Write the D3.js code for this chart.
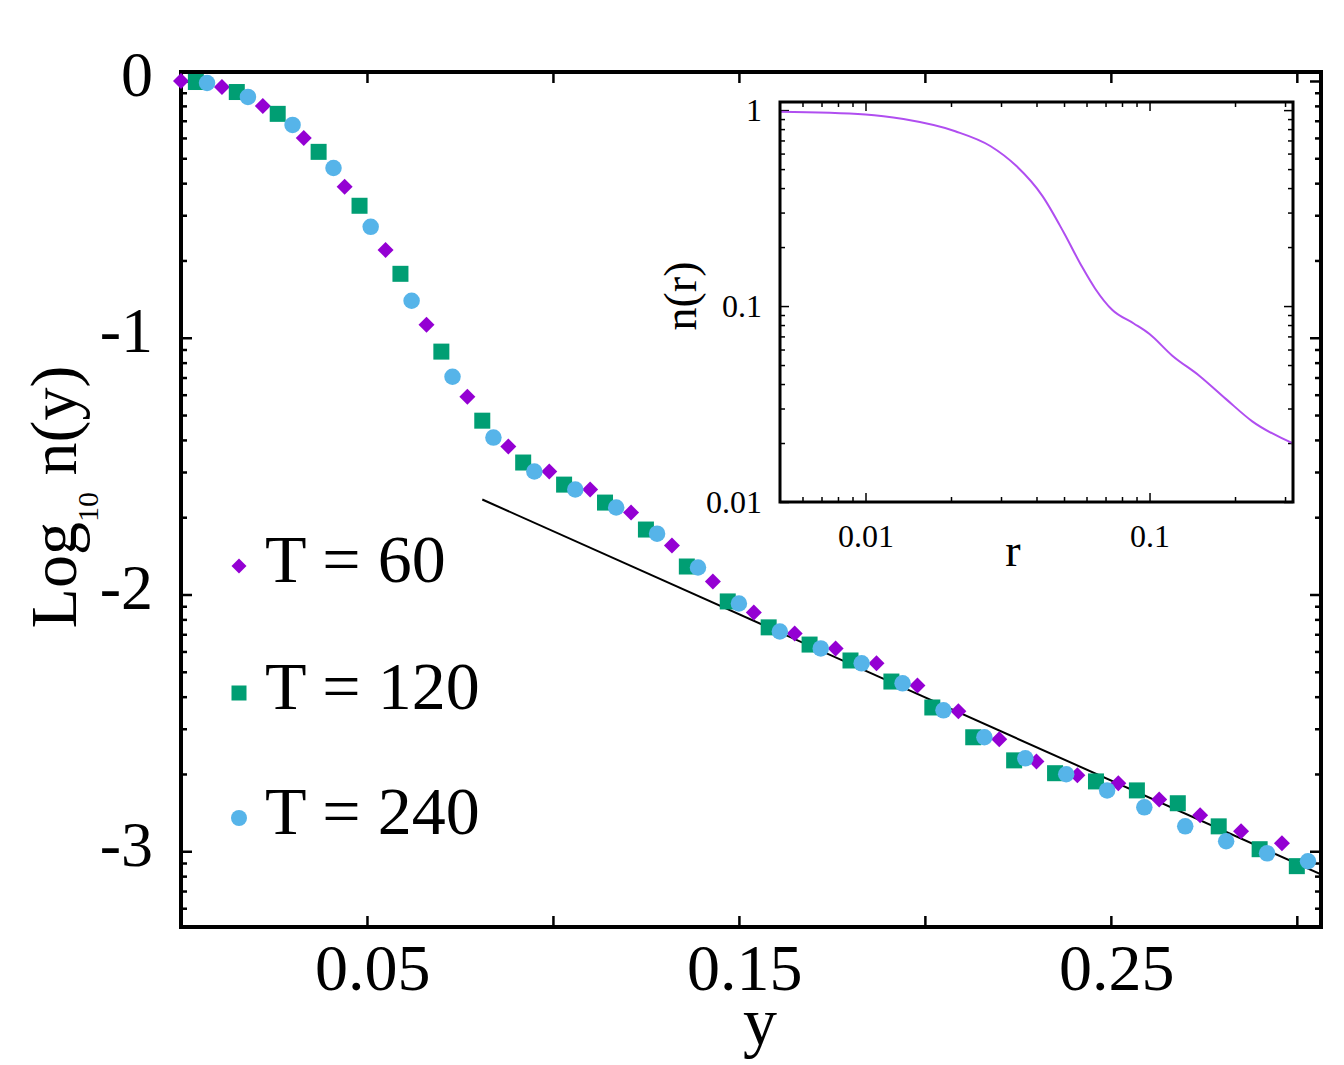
<!DOCTYPE html>
<html>
<head>
<meta charset="utf-8">
<script src="https://cdn.jsdelivr.net/npm/d3@7"></script>
<style>
  body { margin: 0; background: #fff; }
  svg text { font-family: "Liberation Serif", "DejaVu Serif", serif; fill: #000; }
</style>
</head>
<body>
<svg id="chart" width="1344" height="1065"></svg>
<script>
// main panel: x = y (position), value = log10 n(y)
const x60 = [0.000, 0.011, 0.022, 0.033, 0.044, 0.055, 0.066, 0.077, 0.088, 0.099, 0.110, 0.121, 0.132, 0.143,
             0.154, 0.165, 0.176, 0.187, 0.198, 0.209, 0.220, 0.230, 0.241, 0.252, 0.263, 0.274, 0.285, 0.296];
const logN60 = [0.000, -0.023, -0.097, -0.222, -0.412, -0.658, -0.949, -1.230, -1.424, -1.521, -1.591, -1.681, -1.809, -1.949,
                -2.070, -2.152, -2.210, -2.268, -2.354, -2.455, -2.564, -2.650, -2.704, -2.735, -2.798, -2.860, -2.922, -2.969];

const x120 = [0.004, 0.015, 0.026, 0.037, 0.048, 0.059, 0.070, 0.081, 0.092, 0.103, 0.114, 0.125, 0.136, 0.147,
              0.158, 0.169, 0.180, 0.191, 0.202, 0.213, 0.224, 0.235, 0.246, 0.257, 0.268, 0.279, 0.290, 0.300];
const logN120 = [-0.004, -0.043, -0.128, -0.276, -0.486, -0.751, -1.054, -1.323, -1.486, -1.572, -1.642, -1.747, -1.891, -2.027,
                 -2.128, -2.195, -2.257, -2.339, -2.440, -2.556, -2.646, -2.696, -2.728, -2.763, -2.813, -2.903, -2.992, -3.058];

const x240 = [0.007, 0.018, 0.030, 0.041, 0.051, 0.062, 0.073, 0.084, 0.095, 0.106, 0.117, 0.128, 0.139, 0.150,
              0.161, 0.172, 0.183, 0.194, 0.205, 0.216, 0.227, 0.238, 0.249, 0.259, 0.270, 0.281, 0.292, 0.303];
const logN240 = [-0.008, -0.062, -0.171, -0.339, -0.568, -0.856, -1.152, -1.389, -1.521, -1.591, -1.661, -1.763, -1.895, -2.035,
                 -2.144, -2.210, -2.268, -2.346, -2.451, -2.556, -2.638, -2.700, -2.763, -2.829, -2.903, -2.961, -3.008, -3.039];

// straight fit line
const fitX = [0.081, 0.3065];
const fitLogN = [-1.630, -3.090];

const seriesNames = ["T = 60", "T = 120", "T = 240"];
const xTickLabels = [0.05, 0.15, 0.25];
const xTicks = [0.05, 0.10, 0.15, 0.20, 0.25, 0.30];
const yTicks = [0, -1, -2, -3];

// inset: n(r)
const rVals = [0.005, 0.010, 0.0136, 0.0207, 0.0275, 0.034, 0.042, 0.050, 0.0578, 0.0643, 0.074, 0.0880, 0.100, 0.120, 0.15, 0.186, 0.23, 0.32];
const nVals = [0.98, 0.95, 0.90, 0.78, 0.656, 0.518, 0.364, 0.236, 0.159, 0.123, 0.0954, 0.0815, 0.0720, 0.0560, 0.0440, 0.0335, 0.0258, 0.0199];
const insetRTicks = [0.01, 0.1];
const insetNTicks = [0.01, 0.1, 1];

const svg = d3.select("#chart");

// ---- main panel ----
const L = 181, R = 1321, T = 72, B = 927;
const x = d3.scaleLinear().domain([0, 0.3065]).range([L, R]);
const y = d3.scaleLinear().domain([-3.295, 0.035]).range([B, T]);

// minor log ticks inside each decade
let yMinor = [];
for (let d = -4; d <= 0; d++) {
  for (let k = 2; k <= 9; k++) {
    let v = d + Math.log10(k);
    if (v > -3.295 && v < 0.035) yMinor.push(v);
  }
}

const fmt = d => (d === 0 ? "0" : "-" + Math.abs(d));

// left axis
svg.append("g").attr("transform", `translate(${L},0)`)
  .call(d3.axisLeft(y).tickValues(yMinor).tickSize(-6).tickFormat(""))
  .call(g => g.select(".domain").remove());
svg.append("g").attr("class", "yaxis").attr("transform", `translate(${L},0)`)
  .call(d3.axisLeft(y).tickValues(yTicks).tickSize(-11).tickPadding(28).tickFormat(fmt))
  .call(g => g.select(".domain").remove())
  .call(g => g.selectAll("text").attr("font-size", 64).attr("dy", "0.22em"));
// right axis (ticks only)
svg.append("g").attr("transform", `translate(${R},0)`)
  .call(d3.axisRight(y).tickValues(yMinor).tickSize(-6).tickFormat(""))
  .call(g => g.select(".domain").remove());
svg.append("g").attr("transform", `translate(${R},0)`)
  .call(d3.axisRight(y).tickValues(yTicks).tickSize(-11).tickFormat(""))
  .call(g => g.select(".domain").remove());
// bottom axis
svg.append("g").attr("transform", `translate(0,${B})`)
  .call(d3.axisBottom(x).tickValues(xTicks).tickSize(-11)
    .tickFormat(d => xTickLabels.some(v => Math.abs(v - d) < 1e-9) ? d.toFixed(2) : "").tickPadding(16))
  .call(g => g.select(".domain").remove())
  .call(g => g.selectAll("text").attr("font-size", 66).attr("dx", "0.08em"));
// top axis
svg.append("g").attr("transform", `translate(0,${T})`)
  .call(d3.axisTop(x).tickValues(xTicks).tickSize(-11).tickFormat(""))
  .call(g => g.select(".domain").remove());

svg.selectAll(".tick line").attr("stroke", "#000").attr("stroke-width", 2.5);

// fit line
const clipId = "mainclip";
svg.append("clipPath").attr("id", clipId).append("rect")
  .attr("x", L).attr("y", T).attr("width", R - L).attr("height", B - T);

svg.append("path")
  .datum(fitX.map((v, i) => [v, fitLogN[i]]))
  .attr("clip-path", `url(#${clipId})`)
  .attr("fill", "none").attr("stroke", "#000").attr("stroke-width", 2)
  .attr("d", d3.line().x(d => x(d[0])).y(d => y(d[1])));

const colors = ["#9400d3", "#009e73", "#56b4e9"];

function marker(g, kind, size, color) {
  if (kind === 0) {
    const h = size / 2;
    g.append("path").attr("d", `M0,${-h}L${h},0L0,${h}L${-h},0Z`).attr("fill", color);
  } else if (kind === 1) {
    g.append("rect").attr("x", -size / 2).attr("y", -size / 2).attr("width", size).attr("height", size).attr("fill", color);
  } else {
    g.append("circle").attr("r", size / 2).attr("fill", color);
  }
}

// frame
svg.append("rect").attr("x", L).attr("y", T).attr("width", R - L).attr("height", B - T)
  .attr("fill", "none").attr("stroke", "#000").attr("stroke-width", 4);

const allX = [x60, x120, x240];
const allY = [logN60, logN120, logN240];
const mainSizes = [16, 16, 16.5];
const pts = svg.append("g");
allX.forEach((xs, s) => {
  xs.forEach((v, i) => {
    const g = pts.append("g").attr("transform", `translate(${x(v)},${y(allY[s][i])})`);
    marker(g, s, mainSizes[s], colors[s]);
  });
});

// axis titles
svg.append("text").attr("x", 760).attr("y", 1045).attr("text-anchor", "middle")
  .attr("font-size", 68).text("y");

const yl = svg.append("text").attr("transform", "translate(76,497) rotate(-90)")
  .attr("text-anchor", "middle").attr("font-size", 66);
yl.append("tspan").text("Log");
yl.append("tspan").attr("font-size", 30).attr("dy", 22).text("10");
yl.append("tspan").attr("dy", -22).text(" n(y)");

// legend
const legY = [566, 693, 818];
const legSizes = [15, 15, 16];
seriesNames.forEach((name, s) => {
  const g = svg.append("g").attr("transform", `translate(239,${legY[s]})`);
  marker(g, s, legSizes[s], colors[s]);
  svg.append("text").attr("x", 265).attr("y", legY[s] + 16).attr("font-size", 68).text(name);
});

// ---- inset ----
const iL = 780, iR = 1293, iT = 102, iB = 502;
const xi = d3.scaleLog().domain([0.005, 0.32]).range([iL, iR]);
const yi = d3.scaleLog().domain([0.01, 1.1]).range([iB, iT]);

svg.append("rect").attr("x", iL).attr("y", iT).attr("width", iR - iL).attr("height", iB - iT).attr("fill", "#fff");

let rMinor = [], nMinor = [];
for (let d = -3; d <= 0; d++) {
  for (let k = 2; k <= 9; k++) {
    const v = k * Math.pow(10, d);
    if (v > 0.005 && v < 0.32) rMinor.push(v);
    if (v > 0.01 && v < 1.1) nMinor.push(v);
  }
}

const inset = svg.append("g");
inset.append("g").attr("transform", `translate(0,${iB})`)
  .call(d3.axisBottom(xi).tickValues(rMinor).tickSize(-5).tickFormat(""))
  .call(g => g.select(".domain").remove());
inset.append("g").attr("transform", `translate(0,${iB})`)
  .call(d3.axisBottom(xi).tickValues(insetRTicks).tickSize(-9).tickPadding(22).tickFormat(d => d === 0.01 ? "0.01" : "0.1"))
  .call(g => g.select(".domain").remove())
  .call(g => g.selectAll("text").attr("font-size", 32));
inset.append("g").attr("transform", `translate(0,${iT})`)
  .call(d3.axisTop(xi).tickValues(rMinor).tickSize(-5).tickFormat(""))
  .call(g => g.select(".domain").remove());
inset.append("g").attr("transform", `translate(0,${iT})`)
  .call(d3.axisTop(xi).tickValues(insetRTicks).tickSize(-9).tickFormat(""))
  .call(g => g.select(".domain").remove());
inset.append("g").attr("transform", `translate(${iL},0)`)
  .call(d3.axisLeft(yi).tickValues(nMinor).tickSize(-5).tickFormat(""))
  .call(g => g.select(".domain").remove());
inset.append("g").attr("transform", `translate(${iL},0)`)
  .call(d3.axisLeft(yi).tickValues(insetNTicks).tickSize(-9).tickPadding(18).tickFormat(d => d === 1 ? "1" : (d === 0.1 ? "0.1" : "0.01")))
  .call(g => g.select(".domain").remove())
  .call(g => g.selectAll("text").attr("font-size", 32));
inset.append("g").attr("transform", `translate(${iR},0)`)
  .call(d3.axisRight(yi).tickValues(nMinor).tickSize(-5).tickFormat(""))
  .call(g => g.select(".domain").remove());
inset.append("g").attr("transform", `translate(${iR},0)`)
  .call(d3.axisRight(yi).tickValues(insetNTicks).tickSize(-9).tickFormat(""))
  .call(g => g.select(".domain").remove());
inset.selectAll(".tick line").attr("stroke", "#000").attr("stroke-width", 1.5);

inset.append("path")
  .datum(rVals.map((r, i) => [r, nVals[i]]))
  .attr("fill", "none").attr("stroke", "#b04ef0").attr("stroke-width", 2)
  .attr("d", d3.line().x(d => xi(d[0])).y(d => yi(d[1])).curve(d3.curveMonotoneX));

inset.append("rect").attr("x", iL).attr("y", iT).attr("width", iR - iL).attr("height", iB - iT)
  .attr("fill", "none").attr("stroke", "#000").attr("stroke-width", 3);

inset.append("text").attr("x", 1013).attr("y", 566).attr("text-anchor", "middle").attr("font-size", 46).text("r");
inset.append("text").attr("transform", "translate(696,296) rotate(-90)").attr("text-anchor", "middle")
  .attr("font-size", 46).text("n(r)");
</script>
</body>
</html>
